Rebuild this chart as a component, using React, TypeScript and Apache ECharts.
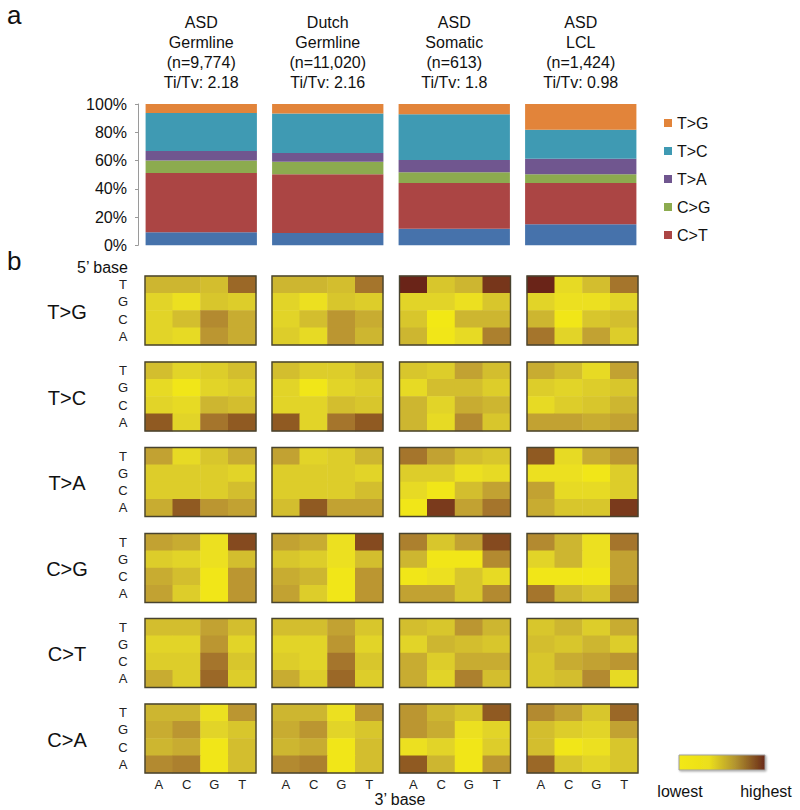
import React, { useEffect, useRef } from 'react';
import * as echarts from 'echarts';

// ---------- Panel a: stacked composition (percent) ----------
const cohortNames = ['ASD\nGermline', 'Dutch\nGermline', 'ASD\nSomatic', 'ASD\nLCL'];
const cohortCounts = ['9,774', '11,020', '613', '1,424'];
const cohortTiTv = ['2.18', '2.16', '1.8', '0.98'];

const pctCA = [9.2, 8.7, 11.8, 14.9];
const pctCT = [42.0, 41.5, 32.3, 29.2];
const pctCG = [8.9, 9.0, 7.6, 6.1];
const pctTA = [6.6, 6.2, 8.7, 11.1];
const pctTC = [26.9, 27.8, 32.3, 20.5];
const pctTG = [6.4, 6.8, 7.3, 18.2];

const yTicks = [0, 20, 40, 60, 80, 100];

// ---------- Panel b: trinucleotide context heatmaps ----------
// relative level 0 (lowest) .. 10 (highest)
// each matrix: rows = 5' base T, G, C, A (top to bottom); cols = 3' base A, C, G, T
const bases = ['A', 'C', 'G', 'T'];
const mutTypes = ['T>G', 'T>C', 'T>A', 'C>G', 'C>T', 'C>A'];

const hmTG = [
  [[4, 4, 3.5, 7.5], [2, 1, 3, 2.5], [2, 3.5, 6, 4.5], [2, 1.5, 5.5, 4.5]],
  [[4, 4, 3.5, 7], [2, 1, 3, 2.5], [2, 3.5, 5.5, 4.5], [2.5, 1.5, 5.5, 4]],
  [[10, 3, 4, 9.2], [2, 2, 1, 3], [3, 0.3, 4, 4], [4, 0.5, 1.5, 6.5]],
  [[10, 1.5, 3.5, 7], [2, 1, 1, 2], [4, 0.5, 3, 3.5], [7, 2, 5, 2.5]],
];
const hmTC = [
  [[3.5, 2, 2.5, 3.5], [1.5, 0.5, 2, 2.5], [2, 1.5, 4, 3.5], [8, 2, 7, 8]],
  [[3.5, 2.5, 2.5, 3.5], [2, 0.5, 2, 2.5], [2, 2, 3.5, 3], [8, 2, 7, 8]],
  [[3, 2.5, 5, 3.5], [1.5, 3.5, 3.5, 2.5], [4, 2, 4.5, 4], [4, 1.5, 6, 3]],
  [[4.5, 3.5, 1.5, 5], [2.5, 2, 2.5, 3], [1.5, 2.5, 3, 4], [5, 5, 4.5, 5]],
];
const hmTA = [
  [[5, 1.5, 3, 4.5], [2.5, 2.5, 2.5, 2], [2.5, 2.5, 2.5, 3.5], [4.5, 8, 5.5, 5]],
  [[5, 2, 2.5, 4], [2.5, 2.5, 2.5, 2], [2.5, 2.5, 2.5, 3.5], [3.5, 8, 5, 5]],
  [[7, 5, 3.5, 3], [2.5, 2.5, 1, 1.5], [1.5, 0.5, 3.5, 5], [0.5, 9, 5, 7]],
  [[8, 1.5, 4.5, 5.5], [1, 1, 0.5, 2.5], [5, 1.5, 1.5, 2.5], [4.5, 3, 3, 9]],
];
const hmCG = [
  [[5, 4.5, 1, 8.5], [2.5, 2, 1, 3.5], [4.5, 3.5, 0.5, 5.5], [5, 2.5, 0.5, 5.5]],
  [[5, 4.5, 1, 8.5], [3, 2.5, 1, 3.5], [4.5, 4, 0.5, 5.5], [5, 2.5, 0.5, 5.5]],
  [[6.5, 3, 5, 8.5], [4, 0.5, 0.5, 6], [0.5, 1, 3, 1.5], [5, 5, 3, 6]],
  [[6, 4, 1, 7], [2, 4, 1, 5], [0.5, 0.5, 0.5, 5], [7, 4, 3, 6]],
];
const hmCT = [
  [[3.5, 3.5, 5, 3.5], [2, 2, 5.5, 2], [2.5, 2.5, 7, 3], [4.5, 2.5, 7.5, 2.5]],
  [[3.5, 3.5, 5, 3], [2, 2, 5.5, 2], [2.5, 2, 7, 3], [4.5, 2.5, 7.5, 2.5]],
  [[3.5, 3, 5.5, 4], [2, 4, 3.5, 3], [4.5, 2.5, 4.5, 4.5], [4.5, 2, 6.5, 3.5]],
  [[3, 4, 2.5, 4.5], [3.5, 3, 4, 2.5], [3, 4.5, 5, 5.5], [3, 3.5, 6, 1.5]],
];
const hmCA = [
  [[4, 4, 1, 5.5], [4.5, 5.5, 2, 3], [4, 4.5, 0.5, 3.5], [6, 6.5, 0.5, 3.5]],
  [[4, 4, 1, 5.5], [4.5, 5.5, 2, 3], [4, 4.5, 0.5, 3.5], [6, 6.5, 0.5, 3.5]],
  [[5.5, 4, 3, 8], [5.5, 4.5, 1, 2], [1, 2, 0.5, 2.5], [8, 4, 0.5, 5.5]],
  [[6, 5, 3, 7.5], [3.5, 2.5, 2, 5], [3.5, 0.5, 1, 3], [7.5, 3, 2, 3]],
];
const heatData = [hmTG, hmTC, hmTA, hmCG, hmCT, hmCA];

// ---------- styling / layout ----------
const FONT = 'Liberation Sans, Arial, Helvetica, sans-serif';
const barColors: Record<string, string> = {
  'C>A': '#4672ab',
  'C>T': '#ab4544',
  'C>G': '#8cab4f',
  'T>A': '#70568f',
  'T>C': '#3f9ab3',
  'T>G': '#e2843a',
};
const heatColors = [
  '#f5eb10', '#ece020', '#e2d428', '#d8c62c', '#cdb630', '#c2a232',
  '#b38a30', '#a5752c', '#905a22', '#7a3a1c', '#6a2418',
];
const heatLeft = [145, 272, 399.5, 527];
const heatTop = [276, 362, 447.5, 533.5, 618.5, 704];
const HW = 111;
const HH = 69;

function buildOption() {
  const grids: any[] = [
    { left: 138, top: 104, width: 506, height: 141.3, containLabel: false },
  ];
  const xAxes: any[] = [
    {
      type: 'category',
      gridIndex: 0,
      position: 'top',
      data: cohortNames.map(
        (n, i) => `${n}\n(n=${cohortCounts[i]})\nTi/Tv: ${cohortTiTv[i]}`
      ),
      axisLine: { show: false },
      axisTick: { show: false },
      axisLabel: {
        fontFamily: FONT,
        fontSize: 16,
        lineHeight: 20,
        color: '#111',
        margin: 12,
        interval: 0,
        rich: { a: { lineHeight: 20 } },
      },
    },
  ];
  const yAxes: any[] = [
    {
      type: 'value',
      gridIndex: 0,
      min: 0,
      max: 100,
      interval: 20,
      splitLine: { show: false },
      axisLine: { show: true, lineStyle: { color: '#9a9a9a', width: 1 } },
      axisTick: { show: true, length: 3, lineStyle: { color: '#9a9a9a' } },
      axisLabel: {
        formatter: '{value}%',
        fontFamily: FONT,
        fontSize: 16,
        color: '#111',
        margin: 11,
        customValues: yTicks,
      },
    },
  ];

  const barSeriesDefs: [string, number[]][] = [
    ['C>A', pctCA],
    ['C>T', pctCT],
    ['C>G', pctCG],
    ['T>A', pctTA],
    ['T>C', pctTC],
    ['T>G', pctTG],
  ];
  const series: any[] = barSeriesDefs.map(([name, vals]) => ({
    name,
    type: 'bar',
    stack: 'total',
    xAxisIndex: 0,
    yAxisIndex: 0,
    data: vals,
    barCategoryGap: '12%',
    itemStyle: { color: barColors[name] },
  }));

  const heatSeriesIdx: number[] = [];
  let gi = 1;
  for (let r = 0; r < mutTypes.length; r++) {
    for (let c = 0; c < 4; c++) {
      grids.push({
        left: heatLeft[c],
        top: heatTop[r],
        width: HW,
        height: HH,
        show: true,
        backgroundColor: 'transparent',
        borderColor: '#48432f',
        borderWidth: 1.4,
        z: 10,
      });
      xAxes.push({
        type: 'category',
        gridIndex: gi,
        data: bases,
        axisLine: { show: false },
        axisTick: { show: false },
        splitLine: { show: false },
        axisLabel: {
          show: r === mutTypes.length - 1,
          fontFamily: FONT,
          fontSize: 13,
          color: '#222',
          margin: 5,
        },
      });
      yAxes.push({
        type: 'category',
        gridIndex: gi,
        data: bases,
        axisLine: { show: false },
        axisTick: { show: false },
        splitLine: { show: false },
        axisLabel: {
          show: c === 0,
          fontFamily: FONT,
          fontSize: 13,
          color: '#222',
          margin: 22,
          align: 'center',
        },
      });
      const mat = heatData[r][c];
      const data: number[][] = [];
      for (let row = 0; row < 4; row++) {
        for (let col = 0; col < 4; col++) {
          data.push([col, 3 - row, mat[row][col]]);
        }
      }
      heatSeriesIdx.push(series.length);
      series.push({
        name: `${mutTypes[r]} ${c}`,
        type: 'heatmap',
        xAxisIndex: gi,
        yAxisIndex: gi,
        data,
        itemStyle: { borderWidth: 0 },
        emphasis: { disabled: true },
      });
      gi++;
    }
  }

  const graphics: any[] = [
    { type: 'text', left: 7, top: 2, style: { text: 'a', font: `26px ${FONT}`, fill: '#111' } },
    { type: 'text', left: 7, top: 248, style: { text: 'b', font: `26px ${FONT}`, fill: '#111' } },
    {
      type: 'text',
      x: 128,
      y: 267,
      style: { text: '5’ base', font: `16px ${FONT}`, fill: '#111', align: 'right', verticalAlign: 'middle' },
    },
    {
      type: 'text',
      x: 400,
      y: 799,
      style: { text: '3’ base', font: `16px ${FONT}`, fill: '#111', align: 'center', verticalAlign: 'middle' },
    },
    {
      type: 'rect',
      shape: { x: 679, y: 755, width: 86, height: 15 },
      style: {
        fill: new echarts.graphic.LinearGradient(0, 0, 1, 0, [
          { offset: 0, color: '#f3e812' },
          { offset: 0.35, color: '#ebdf1c' },
          { offset: 0.65, color: '#b39530' },
          { offset: 1, color: '#6a2a18' },
        ]),
        stroke: '#a0a0a0',
        lineWidth: 1,
        shadowBlur: 2,
        shadowOffsetX: 1,
        shadowOffsetY: 1,
        shadowColor: 'rgba(0,0,0,0.35)',
      },
    },
    {
      type: 'text',
      x: 680,
      y: 791,
      style: { text: 'lowest', font: `16px ${FONT}`, fill: '#111', align: 'center', verticalAlign: 'middle' },
    },
    {
      type: 'text',
      x: 766,
      y: 791,
      style: { text: 'highest', font: `16px ${FONT}`, fill: '#111', align: 'center', verticalAlign: 'middle' },
    },
  ];
  mutTypes.forEach((m, r) => {
    graphics.push({
      type: 'text',
      x: 67,
      y: heatTop[r] + HH / 2 + 1,
      style: { text: m, font: `20px ${FONT}`, fill: '#111', align: 'center', verticalAlign: 'middle' },
    });
  });

  return {
    animation: false,
    backgroundColor: '#ffffff',
    grid: grids,
    xAxis: xAxes,
    yAxis: yAxes,
    legend: {
      orient: 'vertical',
      left: 659,
      top: 110,
      data: ['T>G', 'T>C', 'T>A', 'C>G', 'C>T'],
      icon: 'rect',
      itemWidth: 8,
      itemHeight: 8,
      itemGap: 12,
      selectedMode: false,
      textStyle: { fontFamily: FONT, fontSize: 16, color: '#111', lineHeight: 16 },
    },
    visualMap: {
      show: false,
      type: 'continuous',
      min: 0,
      max: 10,
      dimension: 2,
      seriesIndex: heatSeriesIdx,
      inRange: { color: heatColors },
    },
    graphic: graphics,
    series,
  };
}

export default function App() {
  const ref = useRef<HTMLDivElement>(null);
  useEffect(() => {
    if (!ref.current) return;
    const chart = echarts.init(ref.current, null, { renderer: 'svg' });
    chart.setOption(buildOption() as any);
    return () => chart.dispose();
  }, []);
  return (
    <div
      ref={ref}
      style={{ position: 'absolute', left: 0, top: 0, width: 800, height: 810, background: '#fff' }}
    />
  );
}
